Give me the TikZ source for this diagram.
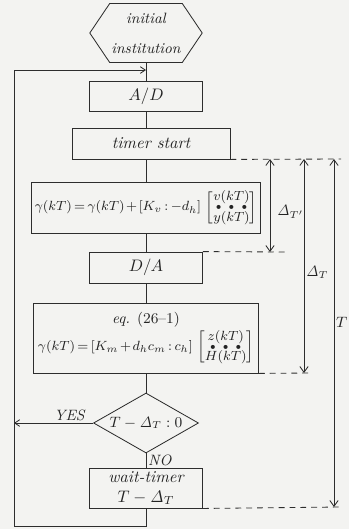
\documentclass[tikz,border=0pt]{standalone}
\usepackage{amsmath}
\usetikzlibrary{shapes.geometric,shapes.symbols,arrows.meta,positioning}
\definecolor{lnclr}{RGB}{45,45,45}
\definecolor{txtclr}{RGB}{35,35,35}
\definecolor{bgclr}{RGB}{243,243,241}
\newcommand{\dotvec}[2]{\left[\vcenter{\offinterlineskip\halign{\hfil$##$\hfil\cr
  #1\cr\noalign{\vskip1pt}\scriptscriptstyle\bullet\hskip4pt\bullet\hskip4pt\bullet\cr
  \noalign{\vskip1pt}#2\cr}}\right]}
\tikzset{
  %% process block
  pblk/.style={rectangle,draw=lnclr,line width=0.5pt,minimum width=#1,
    minimum height=18pt,font=\normalsize\itshape,align=center,text=txtclr,inner sep=2pt},
  pblk/.default=67.8pt,
  %% formula block
  fblk/.style={pblk=135pt,font=\footnotesize,
    execute at begin node={\thickmuskip=3mu\medmuskip=2mu}},
  %% start block
  hexblk/.style={signal,signal to=west and east,signal pointer angle=112,
    draw=lnclr,line width=0.5pt,minimum width=67.2pt,minimum height=35.4pt,
    font=\small\itshape,align=center,text=txtclr,inner sep=1pt},
  %% decision
  decblk/.style={diamond,draw=lnclr,line width=0.5pt,aspect=1.75,
    minimum width=63pt,minimum height=36pt,inner sep=0pt,
    font=\small,text=txtclr},
  %% connectors
  flow/.style={line width=0.5pt,color=lnclr},
  arr/.style={-{Straight Barb[length=3pt,width=4pt]},line width=0.5pt,color=lnclr},
  dimarr/.style={{Straight Barb[length=3.5pt,width=5pt]}-{Straight Barb[length=3.5pt,width=5pt]},
    line width=0.5pt,color=lnclr},
  dsh/.style={line width=0.5pt,color=lnclr,dash pattern=on 3.5pt off 3pt},
  lbl/.style={font=\small,text=txtclr,inner sep=1pt},
}
\begin{document}
\begin{tikzpicture}[x=0.6pt,y=-0.6pt]
  \useasboundingbox (0,0) rectangle (349,529);
  \fill[bgclr] (0,0) rectangle (349,529);

  \node[hexblk] (init)  at (146,33)    {initial\\[7pt]institution};
  \node[pblk,minimum height=18pt] (ad) at (146,96) {$A/D$};
  \node[pblk=94.8pt,minimum height=18.6pt] (timer) at (151,143.5) {timer start};
  \node[fblk,minimum height=30.6pt] (law1) at (146,207.5)
    {$\gamma(kT)=\gamma(kT)+[K_v:-d_h]\,\dotvec{v(kT)}{y(kT)}$};
  \node[pblk,minimum height=18.6pt] (da) at (146,267.5) {$D/A$};
  \node[fblk,minimum height=42pt] (law2) at (146,338)
    {\small\textit{eq.} (26--1)\\[1pt]$\gamma(kT)=[K_m+d_hc_m:c_h]\,\dotvec{z(kT)}{H(kT)}$};
  \node[decblk] (dec) at (146,423) {$T-\mathit{\Delta}_T:0$};
  \node[pblk,minimum height=22.8pt] (wait) at (146,488) {wait-timer\\$T-\mathit{\Delta}_T$};

  \coordinate (join)    at (146,70);
  \coordinate (looptop) at (14,70);
  \coordinate (loopbot) at (14,526);

  %% main flow
  \draw[flow] (init.south)--(ad.north);
  \draw[flow] (ad.south)--(ad.south|-timer.north);
  \draw[flow] (ad.south|-timer.south)--(law1.north);
  \draw[flow] (law1.south)--(da.north);
  \draw[flow] (da.south)--(law2.north);
  \draw[flow] (law2.south)--(dec.north);
  \draw[flow] (dec.south)--(wait.north) node[right,lbl,midway,font=\small\itshape]{NO};
  \draw[arr] (dec.west)--(dec.west-|looptop) node[above,lbl,pos=0.3,font=\small\itshape]{YES};
  \draw[arr] (wait.south) |- (loopbot) -- (looptop) -- (join);

  %% timing dimensions
  \coordinate (d1t) at (270,159);   \coordinate (d1b) at (270,252);
  \coordinate (d2t) at (304,159);   \coordinate (d2b) at (304,373);
  \coordinate (d3t) at (334,159);   \coordinate (d3b) at (334,507);
  \coordinate (dend) at (341,159);
  \draw[dsh] (timer.south east)--(dend);
  \draw[dsh] (da.north east)--([xshift=9pt]d1b);
  \draw[dsh] (law2.south east)--([xshift=4pt]d2b);
  \draw[dsh] (wait.south east)--([xshift=4pt]d3b);
  \draw[dimarr] (d1t)--(d1b) node[right,lbl,pos=0.57,xshift=3pt]{$\mathit{\Delta}_{T'}$};
  \draw[dimarr] (d2t)--(d2b) node[right,lbl,pos=0.53]{$\mathit{\Delta}_T$};
  \draw[dimarr] (d3t)--(d3b) node[right,lbl,pos=0.47]{$T$};
\end{tikzpicture}
\end{document}
